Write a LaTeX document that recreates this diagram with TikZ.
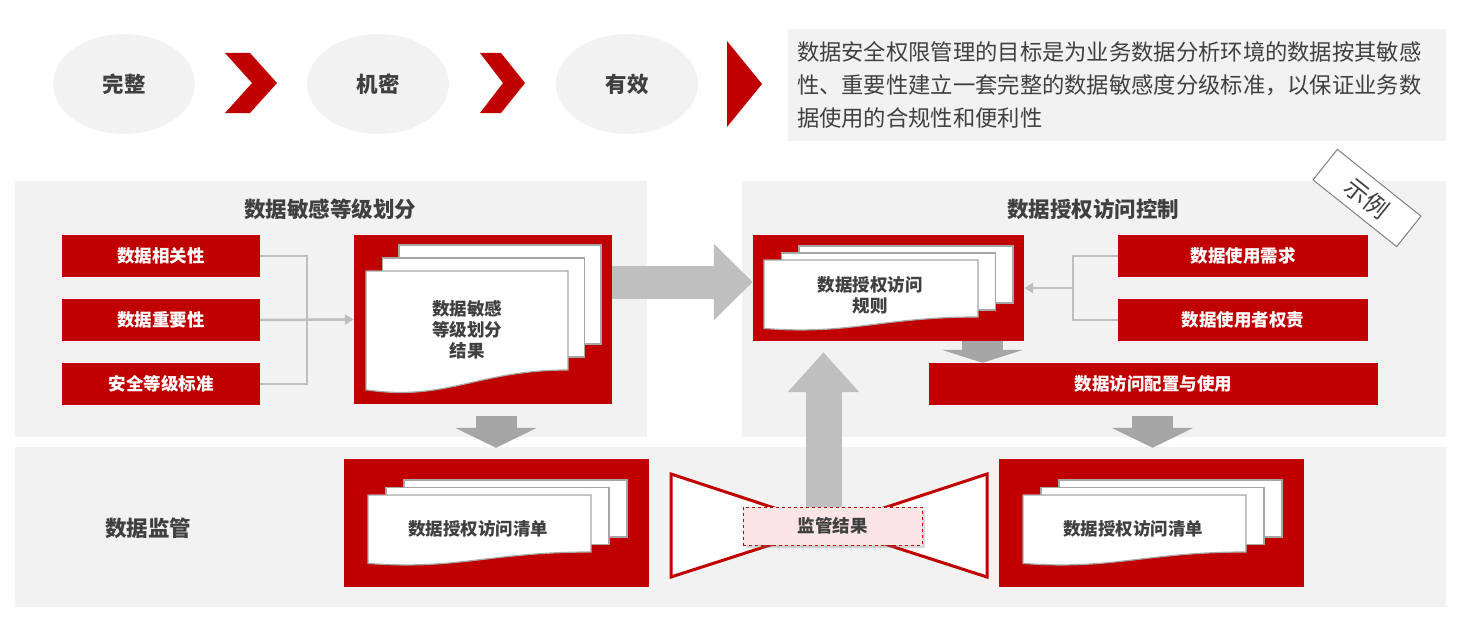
\documentclass[tikz,border=0pt]{standalone}
\usepackage{fontspec}
\setmainfont{Noto Sans CJK SC}
\usetikzlibrary{calc,arrows.meta,shapes.geometric,shadows}

\definecolor{mdred}{HTML}{C00000}
\definecolor{panelgray}{HTML}{F2F2F2}
\definecolor{txtgray}{HTML}{404040}
\definecolor{linegray}{HTML}{BFBFBF}
\definecolor{arrowgray}{HTML}{A6A6A6}
\definecolor{checkpink}{HTML}{FBE5E6}

% three stacked sheets: front top-left, width, height, offset of the sheets behind
\newcommand{\docstack}[6]{%
    \draw[sheet] ({#1+2*#5},{#2-2*#6}) rectangle ++(#3,#4);
    \draw[sheet] ({#1+#5},{#2-#6}) rectangle ++(#3,#4);
    \draw[sheet] (#1,#2) -- ++(#3,0) -- ++(0,#4) .. controls ({#1+0.55*#3},{#2+#4}) and ({#1+0.4*#3},{#2+1.32*#4}) .. (#1,{#2+1.2*#4}) -- cycle;
}

\begin{document}
\begin{tikzpicture}[x=1pt,y=-1pt,
    panel/.style={fill=panelgray, inner sep=0pt},
    heading/.style={text=txtgray, font=\bfseries\fontsize{21.5}{26}\selectfont},
    phase/.style={ellipse, fill=panelgray, minimum width=142pt, minimum height=100pt, text=txtgray, font=\bfseries\fontsize{21.5}{26}\selectfont},
    goal/.style={fill=panelgray, minimum width=658pt, minimum height=112pt, text width=640pt, align=left, text=txtgray, font=\fontsize{22.3}{33}\selectfont},
    tag/.style={fill=mdred, text=white, minimum height=42pt, inner sep=0pt, font=\bfseries\fontsize{17.5}{21}\selectfont},
    docbox/.style={fill=mdred, inner sep=0pt},
    sheet/.style={fill=white, draw=arrowgray, line width=1.2pt},
    doctext/.style={text=txtgray, align=center, font=\bfseries\fontsize{17.5}{21}\selectfont},
    conn/.style={draw=linegray, line width=2.5pt},
    block/.style={draw=linegray},
    down/.style={draw=arrowgray, line width=41pt, -{Triangle[length=20pt,width=81pt]}},
    stamp/.style={draw=gray, fill=white, line width=1pt, minimum width=107pt, minimum height=39pt, inner sep=0pt, text=txtgray, font=\fontsize{24}{26}\selectfont}]

    \useasboundingbox (0,0) rectangle (1460,626);

    % top row
    \node[phase] (whole) at (124,84) {完整};
    \node[phase] (secret) at (378,84) {机密};
    \node[phase] (valid) at (627,84) {有效};
    \fill[mdred] (225,53) -- (250,53) -- (277,83) -- (250,113) -- (225,113) -- (252,83) -- cycle;
    \fill[mdred] (480,53) -- (501,53) -- (525,83) -- (501,113) -- (480,113) -- (503,83) -- cycle;
    \fill[mdred] (727,41) -- (762,84) -- (727,127) -- cycle;
    \node[goal] (aim) at (1117,85) {数据安全权限管理的目标是为业务数据分析环境的数据按其敏感\\性、重要性建立一套完整的数据敏感度分级标准，以保证业务数\\据使用的合规性和便利性};

    % panels
    \node[panel, minimum width=632pt, minimum height=256pt] (grade) at (331,309) {};
    \node[panel, minimum width=704pt, minimum height=256pt] (access) at (1094,309) {};
    \node[panel, minimum width=1431pt, minimum height=160pt] (watch) at (730.5,527) {};
    \node[heading] (gradetitle) at (330,209) {数据敏感等级划分};
    \node[heading] (accesstitle) at (1093,209) {数据授权访问控制};
    \node[heading] (watchtitle) at (148,528) {数据监管};
    \node[stamp, rotate=-38.6] (demo) at (1367,198) {示例};

    % grading
    \node[tag, minimum width=198pt] (rel) at (161,256) {数据相关性};
    \node[tag, minimum width=198pt] (imp) at (161,320) {数据重要性};
    \node[tag, minimum width=198pt] (std) at (161,384) {安全等级标准};
    \node[docbox, minimum width=258pt, minimum height=169pt] (res) at (483,319.5) {};
    \docstack{366}{271}{202}{99}{16.5}{13}
    \node[doctext] (restext) at (467,330) {数据敏感\\等级划分\\结果};
    \draw[conn] (rel.east) -- ++(47,0) coordinate (jl) |- (std.east);
    \draw[conn, -{Triangle[length=9pt,width=10pt]}] (imp.east) -- (res.west);

    % access control
    \node[docbox, minimum width=271pt, minimum height=106pt] (rule) at (888.5,288) {};
    \docstack{764}{260}{214}{57}{17.5}{7}
    \node[doctext] (ruletext) at (870,295) {数据授权访问\\规则};
    \node[tag, minimum width=250pt] (need) at (1243,256) {数据使用需求};
    \node[tag, minimum width=250pt] (duty) at (1243,320) {数据使用者权责};
    \node[tag, minimum width=449pt] (cfg) at (1153.5,384) {数据访问配置与使用};
    \draw[conn] (need.west) -- ++(-45,0) coordinate (jr) |- (duty.west);
    \draw[conn, -{Triangle[length=9pt,width=10pt]}] (jr |- rule.east) -- (rule.east);

    % monitoring
    \node[docbox, minimum width=305pt, minimum height=128pt] (list1) at (496.5,523) {};
    \docstack{368}{495}{223}{57}{18}{7.5}
    \node[doctext] (list1text) at (478,529) {数据授权访问清单};
    \node[docbox, minimum width=305pt, minimum height=128pt] (list2) at (1151.5,523) {};
    \docstack{1023}{495}{223}{57}{18}{7.5}
    \node[doctext] (list2text) at (1133,529) {数据授权访问清单};
    \draw[draw=mdred, fill=white, line width=3pt, line join=miter] (671,474) -- (829,526) -- (671,577) -- cycle;
    \draw[draw=mdred, fill=white, line width=3pt, line join=miter] (987,474) -- (829,526) -- (987,577) -- cycle;
    \node[doctext, fill=checkpink, draw=mdred, dashed, line width=1pt, minimum width=179pt, minimum height=38pt, drop shadow={shadow xshift=2.5pt, shadow yshift=-2.5pt, opacity=.3}] (chk) at (832.5,526) {监管结果};

    % block arrows
    \draw[block, line width=33pt, -{Triangle[length=39pt,width=74pt]}] ($(res.east |- rule.west)+(0,-6)$) -- ($(rule.west)+(0,-6)$);
    \draw[block, line width=36pt, -{Triangle[length=40pt,width=69pt]}] ($(chk.north)+(-9,0)$) -- ($(chk.north |- rule.south)+(-9,11)$);
    \draw[down] ($(res.south)+(13,12)$) -- ($(res.south |- watch.north)+(13,1)$);
    \draw[down, -{Triangle[length=13pt,width=81pt]}] ($(rule.south)+(94,0)$) -- ($(rule.south |- cfg.north)+(94,0)$);
    \draw[down] ($(cfg.south)+(-1,11)$) -- ($(cfg.south |- watch.north)+(-1,1)$);
\end{tikzpicture}
\end{document}
